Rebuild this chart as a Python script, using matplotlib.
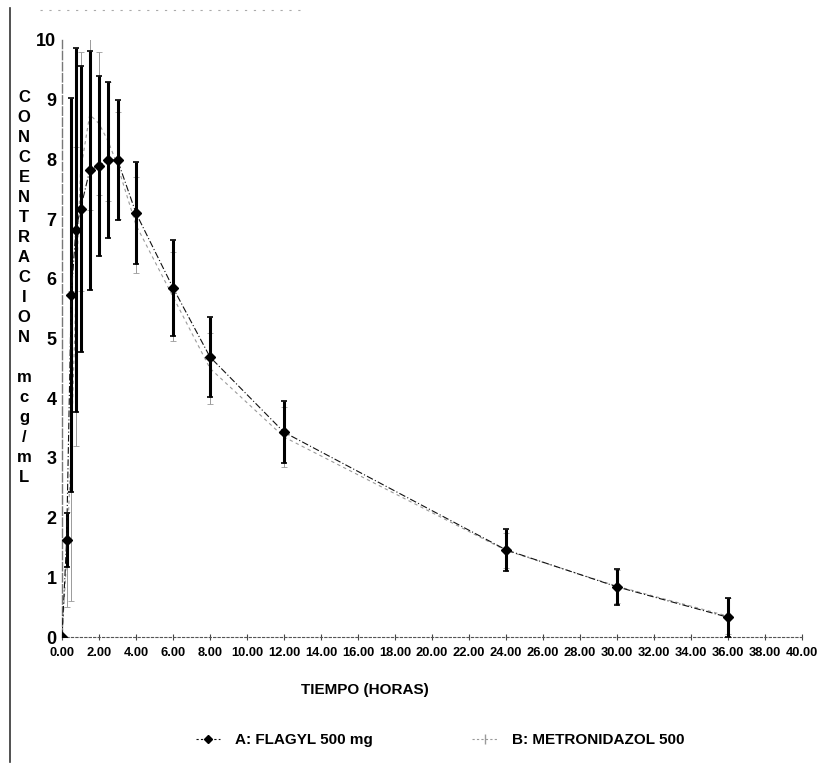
import matplotlib
matplotlib.use("Agg")
import matplotlib.pyplot as plt
from matplotlib.lines import Line2D

# ---- data ----
time_h = [0, 0.25, 0.5, 0.75, 1, 1.5, 2, 2.5, 3, 4, 6, 8, 12, 24, 30, 36]
flagyl_mean = [0.0, 1.62, 5.73, 6.82, 7.17, 7.82, 7.89, 7.99, 7.99, 7.10, 5.85, 4.69, 3.43, 1.46, 0.84, 0.33]
flagyl_sd = [0.0, 0.45, 3.3, 3.05, 2.4, 2.0, 1.5, 1.3, 1.0, 0.85, 0.8, 0.67, 0.52, 0.35, 0.30, 0.33]
metro_mean = [0.0, 1.30, 3.20, 5.70, 7.80, 8.75, 8.60, 8.30, 7.90, 6.90, 5.70, 4.50, 3.35, 1.45, 0.85, 0.35]
metro_sd = [0.0, 0.80, 2.6, 2.5, 2.0, 1.6, 1.2, 1.0, 0.9, 0.8, 0.75, 0.6, 0.5, 0.3, 0.28, 0.3]
x_ticks = [0, 2, 4, 6, 8, 10, 12, 14, 16, 18, 20, 22, 24, 26, 28, 30, 32, 34, 36, 38, 40]
y_ticks = [0, 1, 2, 3, 4, 5, 6, 7, 8, 9, 10]
label_a = "A: FLAGYL 500 mg"
label_b = "B: METRONIDAZOL 500"
y_label_letters = list("CONCENTRACION") + [""] + list("mcg/mL")

plt.rcParams["font.family"] = ["Liberation Sans", "DejaVu Sans"]

fig = plt.figure(figsize=(8.22, 7.71), dpi=100)
ax = fig.add_axes([62 / 822, 1 - 637 / 771, (802 - 62) / 822, (637 - 40) / 771])

# series B (faint)
ax.errorbar(time_h, metro_mean, yerr=metro_sd, color="#9a9a9a", lw=0.8,
            elinewidth=0.7, capsize=2, capthick=0.6, marker="|", ms=6,
            linestyle=(0, (3, 3)), label=label_b, zorder=2)
# series A (dark)
ax.errorbar(time_h, flagyl_mean, yerr=flagyl_sd, color="#111111", lw=0.8,
            ecolor="#000000", elinewidth=2.2, capsize=2, capthick=1.2,
            marker="D", ms=5, mfc="#000000", mec="#000000",
            linestyle=(0, (6, 2, 1, 2)), label=label_a, zorder=3)

ax.set_xlim(0, 40)
ax.set_ylim(0, 10)
ax.set_xticks(x_ticks)
ax.set_xticklabels([f"{v:.2f}" for v in x_ticks], fontsize=9.3, fontweight="bold")
ax.set_yticks(y_ticks)
ax.set_yticklabels([str(v) for v in y_ticks], fontsize=13, fontweight="bold")
ax.tick_params(axis="y", length=0, pad=4)
ax.tick_params(axis="x", direction="inout", length=5, width=0.8, pad=5, color="#444444")

for s in ["top", "right"]:
    ax.spines[s].set_visible(False)
ax.spines["left"].set_linestyle((0, (6, 2)))
ax.spines["left"].set_color("#777777")
ax.spines["left"].set_linewidth(1.0)
ax.spines["bottom"].set_linestyle((0, (2, 2)))
ax.spines["bottom"].set_color("#555555")
ax.spines["bottom"].set_linewidth(0.8)

# x-axis title
fig.text(365 / 822, 1 - 690 / 771, "TIEMPO (HORAS)", ha="center", va="center",
         fontsize=11, fontweight="bold")

# vertical stacked y label
y0 = 97
for i, ch in enumerate(y_label_letters):
    if ch:
        yy = y0 + i * 20.05
        fig.text(24 / 822, 1 - yy / 771, ch, ha="center", va="center",
                 fontsize=12, fontweight="bold")

# legend
handles = [
    Line2D([], [], color="#111111", lw=0.8, linestyle=(0, (2, 2)), marker="D", ms=4, mfc="#000", mec="#000"),
    Line2D([], [], color="#9a9a9a", lw=0.8, linestyle=(0, (2, 2)), marker="|", ms=7),
]
fig.legend(handles, [label_a, label_b], loc="center", ncol=2,
           bbox_to_anchor=(440 / 822, 1 - 740 / 771), frameon=False,
           prop={"size": 11, "weight": "bold"}, handlelength=1.6,
           columnspacing=6.5, handletextpad=1.0)

# outer frame fragments (scanned page border)
fig.add_artist(Line2D([10 / 822, 10 / 822], [1 - 8 / 771, 1 - 762 / 771],
                      transform=fig.transFigure, color="#333333", lw=1.2))
fig.add_artist(Line2D([40 / 822, 300 / 822], [1 - 10 / 771, 1 - 10 / 771],
                      transform=fig.transFigure, color="#aaaaaa", lw=0.8,
                      linestyle=(0, (2, 6))))

fig.savefig("out.png", dpi=100)
